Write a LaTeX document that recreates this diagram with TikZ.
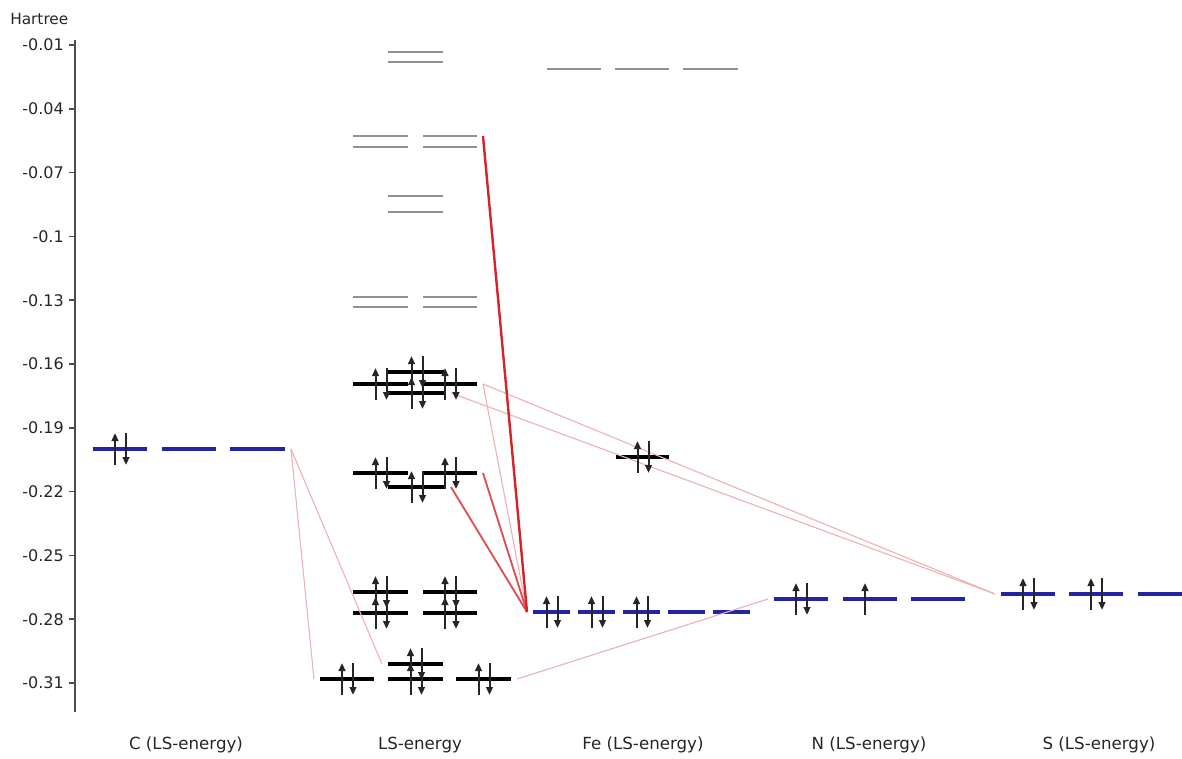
\documentclass[tikz,border=0pt]{standalone}
\usepackage{fontspec}
\setmainfont{DejaVu Sans}
\usetikzlibrary{arrows.meta}
\definecolor{lvlblue}{RGB}{35,35,165}
\definecolor{lvlgray}{RGB}{145,145,145}
\definecolor{redA}{RGB}{215,35,40}
\definecolor{redB}{RGB}{222,80,85}
\definecolor{pinkC}{RGB}{238,178,180}
\tikzset{
  atomlvl/.style={draw=lvlblue,line width=2.4pt},
  occlvl/.style={draw=black,line width=2.3pt},
  virtlvl/.style={draw=lvlgray,line width=2.2pt},
  spinarrow/.style={draw=black!85,line width=1.5pt,-{Triangle[length=6pt,width=5pt]}},
  strong/.style={draw=redA,line width=1.8pt},
  medium/.style={draw=redB,line width=1.4pt},
  faint/.style={draw=pinkC,line width=0.85pt},
  ticklbl/.style={anchor=east,font=\fontsize{12}{14}\selectfont,text=black!85,inner sep=0pt},
  collbl/.style={anchor=center,font=\fontsize{12.5}{14}\selectfont,text=black!85,inner sep=0pt},
}
% level: name, x1, x2, y, style
\newcommand{\mylevel}[5]{%
  \draw[#5] (#2,#4) coordinate (#1-l) -- (#3,#4) coordinate (#1-r);
  \coordinate (#1-L) at ({#2-6},#4);
  \coordinate (#1-R) at ({#3+6},#4);}
\newcommand{\elup}[2]{\draw[spinarrow] ({#1-5},{#2+16}) -- ({#1-5},{#2-16});}
\newcommand{\eldn}[2]{\draw[spinarrow] ({#1+6},{#2-16}) -- ({#1+6},{#2+16});}
\newcommand{\elpair}[2]{\elup{#1}{#2}\eldn{#1}{#2}}
\begin{document}
\begin{tikzpicture}[x=0.75pt,y=-0.75pt]
\useasboundingbox (0,0) rectangle (1182,758);
% axis
\draw[black!70,line width=1.3pt] (75,40) coordinate (axtop) -- (75,712) coordinate (axbot);
\node[anchor=west,font=\fontsize{11.5}{13}\selectfont,text=black!85,inner sep=0pt] (hartree) at (10,19) {Hartree};
\foreach \lbl [count=\i from 0] in {-0.01,-0.04,-0.07,-0.1,-0.13,-0.16,-0.19,-0.22,-0.25,-0.28,-0.31}{
  \pgfmathsetmacro{\yy}{45+63.8*\i}
  \draw[black!70,line width=1.1pt] (69,\yy) -- (75,\yy);
  \node[ticklbl] (tick\i) at (64,\yy) {\lbl};
}
% C
\mylevel{c1}{93}{147}{449}{atomlvl}
\mylevel{c2}{162}{216}{449}{atomlvl}
\mylevel{c3}{230}{285}{449}{atomlvl}
% LS virtual levels
\mylevel{v1}{388}{443}{52}{virtlvl}
\mylevel{v2}{388}{443}{62}{virtlvl}
\mylevel{v3a}{353}{408}{136}{virtlvl}
\mylevel{v3b}{423}{477}{136}{virtlvl}
\mylevel{v4a}{353}{408}{147}{virtlvl}
\mylevel{v4b}{423}{477}{147}{virtlvl}
\mylevel{v5}{388}{443}{196}{virtlvl}
\mylevel{v6}{388}{443}{212}{virtlvl}
\mylevel{v7a}{353}{408}{297}{virtlvl}
\mylevel{v7b}{423}{477}{297}{virtlvl}
\mylevel{v8a}{353}{408}{307}{virtlvl}
\mylevel{v8b}{423}{477}{307}{virtlvl}
% LS occupied levels
\mylevel{o1}{388}{445}{372}{occlvl}
\mylevel{o2a}{353}{408}{384}{occlvl}
\mylevel{o2b}{423}{477}{384}{occlvl}
\mylevel{o3}{388}{445}{393}{occlvl}
\mylevel{o4a}{353}{408}{473}{occlvl}
\mylevel{o4b}{423}{477}{473}{occlvl}
\mylevel{o5}{388}{445}{487}{occlvl}
\mylevel{o6a}{353}{408}{592}{occlvl}
\mylevel{o6b}{423}{477}{592}{occlvl}
\mylevel{o7a}{353}{408}{613}{occlvl}
\mylevel{o7b}{423}{477}{613}{occlvl}
\mylevel{o8}{388}{443}{664}{occlvl}
\mylevel{o9a}{320}{374}{679}{occlvl}
\mylevel{o9b}{388}{443}{679}{occlvl}
\mylevel{o9c}{456}{511}{679}{occlvl}
% Fe
\mylevel{fv1}{547}{601}{69}{virtlvl}
\mylevel{fv2}{615}{669}{69}{virtlvl}
\mylevel{fv3}{683}{738}{69}{virtlvl}
\mylevel{fs}{616}{669}{457}{occlvl}
\mylevel{fd1}{533}{570}{612}{atomlvl}
\mylevel{fd2}{578}{615}{612}{atomlvl}
\mylevel{fd3}{623}{660}{612}{atomlvl}
\mylevel{fd4}{668}{705}{612}{atomlvl}
\mylevel{fd5}{713}{750}{612}{atomlvl}
% N
\mylevel{n1}{774}{828}{599}{atomlvl}
\mylevel{n2}{843}{897}{599}{atomlvl}
\mylevel{n3}{911}{965}{599}{atomlvl}
% S
\mylevel{s1}{1001}{1055}{594}{atomlvl}
\mylevel{s2}{1069}{1123}{594}{atomlvl}
\mylevel{s3}{1138}{1192}{594}{atomlvl}
% links
\draw[faint] (c3-R) -- (o9a-L);
\draw[faint] (c3-R) -- (o8-L);
\draw[faint] (o2b-R) -- (fd1-L);
\draw[faint] (o2b-R) -- (s1-L);
\draw[faint] (o3-R) -- (s1-L);
\draw[faint] (o9c-R) -- (n1-L);
\draw[medium] (o4b-R) -- (fd1-L);
\draw[medium] (o5-R) -- (fd1-L);
\draw[strong] (v3b-R) -- (fd1-L);
% electrons
\elpair{120}{449}
\elpair{416.5}{372}
\elpair{380.5}{384}
\elpair{450}{384}
\elpair{416.5}{393}
\elpair{380.5}{473}
\elpair{450}{473}
\elpair{416.5}{487}
\elpair{380.5}{592}
\elpair{450}{592}
\elpair{380.5}{613}
\elpair{450}{613}
\elpair{415.5}{664}
\elpair{347}{679}
\elpair{415.5}{679}
\elpair{483.5}{679}
\elpair{642.5}{457}
\elpair{551.5}{612}
\elpair{596.5}{612}
\elpair{641.5}{612}
\elpair{801}{599}
\elup{870}{599}
\elpair{1028}{594}
\elpair{1096}{594}
% column labels
\node[collbl] (labC) at (186,745) {C (LS-energy)};
\node[collbl] (labLS) at (420,745) {LS-energy};
\node[collbl] (labFe) at (643,745) {Fe (LS-energy)};
\node[collbl] (labN) at (869,745) {N (LS-energy)};
\node[collbl] (labS) at (1099,745) {S (LS-energy)};
\end{tikzpicture}
\end{document}
